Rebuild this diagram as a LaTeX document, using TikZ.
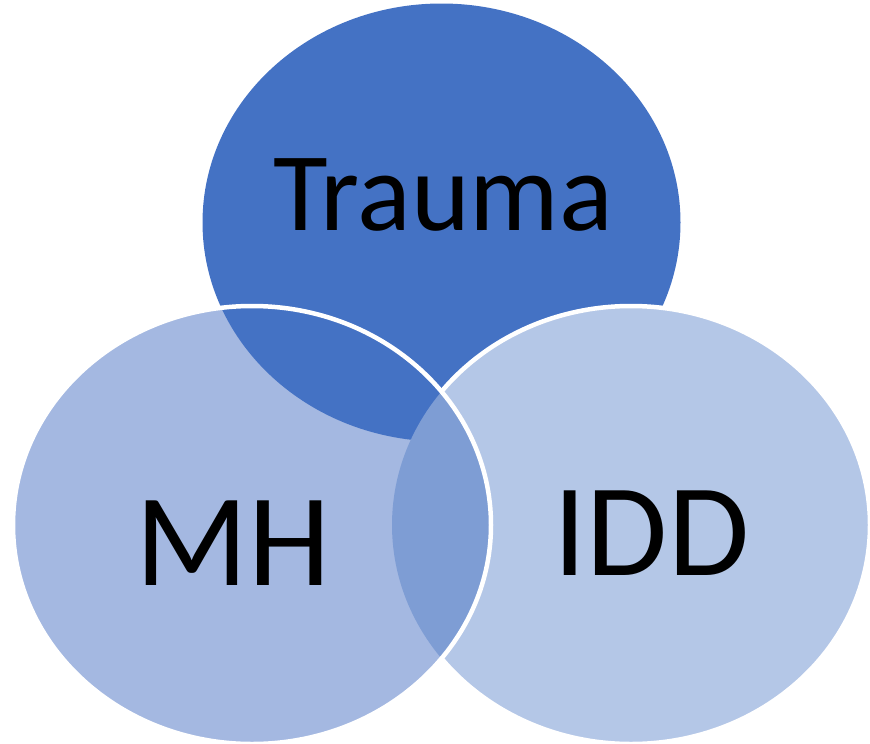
\documentclass[tikz,border=0pt]{standalone}
\usepackage{fontspec}
\setmainfont{Carlito}
\definecolor{traumaC}{HTML}{4472C4}
\definecolor{mhC}{HTML}{A4B8E1}
\definecolor{iddC}{HTML}{B4C7E7}
\definecolor{lensC}{HTML}{7E9DD4}
\tikzset{
  venn/.style={x radius=239pt, y radius=219pt},
  ring/.style={draw=white, line width=4.5pt},
  lbl/.style={inner sep=0pt, anchor=base, text=black}
}
\begin{document}
\begin{tikzpicture}[x=1pt, y=-1pt]
\useasboundingbox (0,0) rectangle (870,744);
% centres
\coordinate (tc) at (441.5,222.5);
\coordinate (mc) at (252,525);
\coordinate (ic) at (631,525);
% Trauma
\fill[traumaC] (tc) ellipse [venn];
% IDD over Trauma, with white outline
\fill[iddC] (ic) ellipse [venn];
\draw[ring] (ic) ellipse [venn];
% MH
\fill[mhC] (mc) ellipse [venn];
\begin{scope}
  \clip (mc) ellipse [venn];
  \fill[traumaC] (tc) ellipse [venn];
  \fill[lensC] (ic) ellipse [venn];
\end{scope}
\draw[ring] (mc) ellipse [venn];
% labels
\node[lbl, font=\fontsize{112}{120}\selectfont] (trauma) at (443,230) {Trauma};
\node[lbl, font=\fontsize{132}{140}\selectfont] (mh) at (233.5,585) {MH};
\node[lbl, font=\fontsize{132}{140}\selectfont] (idd) at (651.5,575) {IDD};
\end{tikzpicture}
\end{document}
